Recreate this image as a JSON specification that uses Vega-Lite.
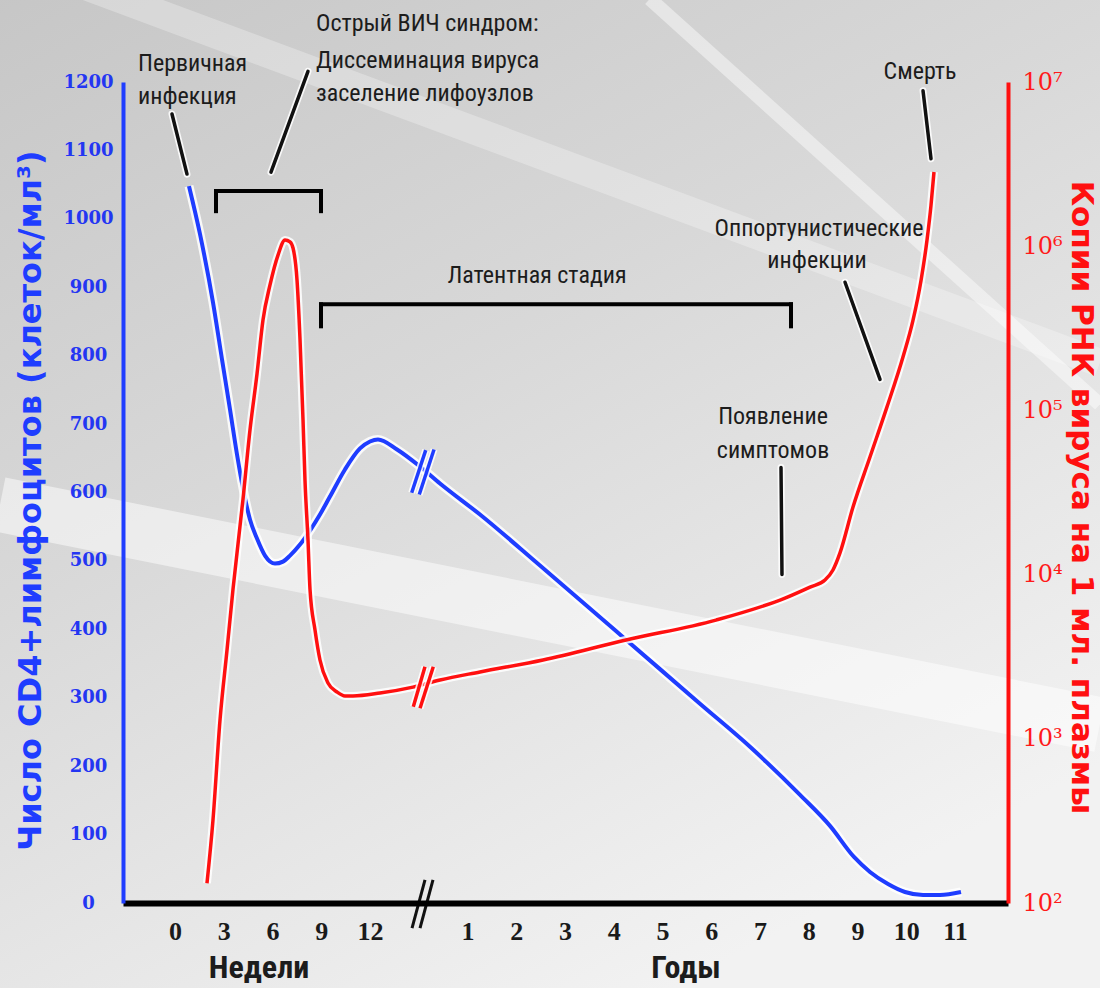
{
  "$schema": "https://vega.github.io/schema/vega-lite/v6.json",
  "width": 885,
  "height": 821,
  "autosize": {"type": "none"},
  "padding": {"left": 123, "top": 82, "right": 92, "bottom": 85},
  "background": "#dcdcdc",
  "config": {"view": {"stroke": null}, "axis": {"grid": false}},
  "datasets": {
    "bg": [{"x": -4, "x2": 19.5, "y": -130, "y2": 1330}],
    "raysWide": [
      {"x": -3.59, "y": 582.5, "x2": 18.97, "y2": 260.5}
    ],
    "raysMid": [
      {"x": -3.59, "y": 1386.6, "x2": 18.97, "y2": 789.4}
    ],
    "raysThin": [
      {"x": 9.74, "y": 1321.5, "x2": 18.97, "y2": 728.8}
    ],
    "cd4": [
      {"x": 0.287, "y": 1047.8}, {"x": 0.513, "y": 977.6}, {"x": 0.779, "y": 878.0}, {"x": 0.964, "y": 794.6},
      {"x": 1.128, "y": 721.5}, {"x": 1.272, "y": 655.6}, {"x": 1.395, "y": 605.9}, {"x": 1.538, "y": 560.5},
      {"x": 1.682, "y": 532.7}, {"x": 1.846, "y": 507.8}, {"x": 2.051, "y": 496.1}, {"x": 2.215, "y": 499.0},
      {"x": 2.359, "y": 507.8}, {"x": 2.564, "y": 523.9}, {"x": 2.769, "y": 544.4}, {"x": 2.974, "y": 567.8},
      {"x": 3.179, "y": 594.1}, {"x": 3.487, "y": 633.7}, {"x": 3.795, "y": 664.4}, {"x": 4.0, "y": 674.6},
      {"x": 4.164, "y": 677.6}, {"x": 4.554, "y": 662.9}, {"x": 5.026, "y": 638.0}, {"x": 5.436, "y": 613.2},
      {"x": 6.256, "y": 567.8}, {"x": 7.487, "y": 493.2}, {"x": 9.251, "y": 384.9}, {"x": 10.769, "y": 291.2},
      {"x": 11.795, "y": 228.3}, {"x": 12.821, "y": 158.0}, {"x": 13.436, "y": 112.7}, {"x": 13.928, "y": 67.3},
      {"x": 14.256, "y": 45.4}, {"x": 14.626, "y": 27.8}, {"x": 14.974, "y": 16.1}, {"x": 15.344, "y": 11.7},
      {"x": 15.692, "y": 11.7}, {"x": 16.123, "y": 16.1}
    ],
    "rna": [
      {"x": 0.656, "rna": 132}, {"x": 0.779, "rna": 320}, {"x": 0.923, "rna": 1300}, {"x": 1.067, "rna": 3475},
      {"x": 1.19, "rna": 8166}, {"x": 1.395, "rna": 28840}, {"x": 1.538, "rna": 76030}, {"x": 1.682, "rna": 166700},
      {"x": 1.805, "rna": 355600}, {"x": 1.949, "rna": 580800}, {"x": 2.113, "rna": 883100}, {"x": 2.256, "rna": 1091000},
      {"x": 2.359, "rna": 1062000}, {"x": 2.421, "rna": 975000}, {"x": 2.503, "rna": 622000}, {"x": 2.564, "rna": 272300},
      {"x": 2.626, "rna": 87500}, {"x": 2.667, "rna": 37150}, {"x": 2.728, "rna": 16260}, {"x": 2.769, "rna": 8166},
      {"x": 2.872, "rna": 4603}, {"x": 2.974, "rna": 3020}, {"x": 3.138, "rna": 2188}, {"x": 3.323, "rna": 1928},
      {"x": 3.487, "rna": 1824}, {"x": 3.651, "rna": 1824}, {"x": 4.205, "rna": 1901}, {"x": 4.882, "rna": 2065},
      {"x": 5.436, "rna": 2280}, {"x": 6.256, "rna": 2553}, {"x": 7.549, "rna": 3020}, {"x": 9.251, "rna": 4000},
      {"x": 11.097, "rna": 5284}, {"x": 12.513, "rna": 7194}, {"x": 13.026, "rna": 8395}, {"x": 13.333, "rna": 9268},
      {"x": 13.497, "rna": 10670}, {"x": 13.641, "rna": 13550}, {"x": 13.908, "rna": 25820}, {"x": 14.256, "rna": 52000},
      {"x": 14.605, "rna": 105000}, {"x": 14.933, "rna": 211300}, {"x": 15.138, "rna": 353000}, {"x": 15.303, "rna": 618000},
      {"x": 15.426, "rna": 1091000}, {"x": 15.508, "rna": 1780000}, {"x": 15.569, "rna": 2831000}
    ],
    "leaders": [
      {"x": -0.062, "y": 1153.2, "x2": 0.246, "y2": 1065.4},
      {"x": 2.728, "y": 1215.6, "x2": 1.969, "y2": 1068.3},
      {"x": 15.344, "y": 1187.3, "x2": 15.508, "y2": 1087.8},
      {"x": 13.744, "y": 907.3, "x2": 14.462, "y2": 765.4},
      {"x": 12.431, "y": 636.6, "x2": 12.451, "y2": 480.2}
    ],
    "brackets": [
      {"x": 0.841, "y": 1040.5, "x2": 2.995, "y2": 1040.5},
      {"x": 0.841, "y": 1040.5, "x2": 0.841, "y2": 1011.2},
      {"x": 2.995, "y": 1040.5, "x2": 2.995, "y2": 1011.2},
      {"x": 2.995, "y": 875.1, "x2": 12.636, "y2": 875.1},
      {"x": 2.995, "y": 875.1, "x2": 2.995, "y2": 842.9},
      {"x": 12.636, "y": 875.1, "x2": 12.636, "y2": 842.9}
    ],
    "axisbreak": [
      {"x": 4.862, "y": -36.6, "x2": 5.128, "y2": 33.7},
      {"x": 5.026, "y": -36.6, "x2": 5.292, "y2": 33.7}
    ],
    "bluebreak": [
      {"x": 4.855, "y": 599.6, "x2": 5.143, "y2": 661.9},
      {"x": 5.011, "y": 597.1, "x2": 5.313, "y2": 662.9}
    ],
    "redbreak": [
      {"x": 4.888, "rna": 1569, "x2": 5.128, "rna2": 2748},
      {"x": 5.026, "rna": 1534, "x2": 5.298, "rna2": 2748}
    ],
    "notesLeft": [
      {"x": -0.759, "y": 1226.3, "text": "Первичная"},
      {"x": -0.759, "y": 1178.0, "text": "инфекция"},
      {"x": 2.892, "y": 1284.9, "text": "Острый ВИЧ синдром:"},
      {"x": 2.892, "y": 1230.7, "text": "Диссеминация вируса"},
      {"x": 2.892, "y": 1182.4, "text": "заселение лифоузлов"}
    ],
    "notesCenter": [
      {"x": 7.426, "y": 916.1, "text": "Латентная стадия"},
      {"x": 13.21, "y": 984.9, "text": "Оппортунистические"},
      {"x": 13.17, "y": 938.1, "text": "инфекции"},
      {"x": 12.267, "y": 709.8, "text": "Появление"},
      {"x": 12.267, "y": 660.0, "text": "симптомов"},
      {"x": 15.282, "y": 1214.6, "text": "Смерть"}
    ],
    "units": [
      {"x": 1.723, "y": -95.1, "text": "Недели"},
      {"x": 10.482, "y": -95.1, "text": "Годы"}
    ]
  },
  "layer": [
    {
      "encoding": {
        "x": {
          "field": "x", "type": "quantitative",
          "scale": {"domain": [-1.0667, 17.0872], "nice": false, "zero": false},
          "axis": {
            "orient": "bottom", "title": null, "zindex": 1,
            "values": [0, 1, 2, 3, 4, 6, 7, 8, 9, 10, 11, 12, 13, 14, 15, 16],
            "labelExpr": "datum.value < 5 ? format(datum.value * 3, 'd') : format(datum.value - 5, 'd')",
            "ticks": false, "tickSize": 0, "labelPadding": 15,
            "labelFont": "Liberation Serif", "labelFontSize": 26, "labelFontWeight": "bold", "labelColor": "#1a1a1a",
            "labelBaseline": "top", "labelFlush": false, "labelOverlap": false,
            "domainColor": "#000000", "domainWidth": 6, "grid": false
          }
        },
        "y": {
          "field": "y", "type": "quantitative",
          "scale": {"domain": [0, 1200], "nice": false, "zero": false},
          "axis": {
            "orient": "left", "zindex": 1, "format": "d",
            "values": [0, 100, 200, 300, 400, 500, 600, 700, 800, 900, 1000, 1100, 1200],
            "ticks": false, "tickSize": 0, "labelPadding": 35, "labelAlign": "center", "labelBaseline": "middle",
            "labelFont": "DejaVu Serif", "labelFontSize": 18, "labelFontWeight": "bold", "labelColor": "#2436f2",
            "labelFlush": false, "labelOverlap": false, "labelBound": false,
            "domainColor": "#1f3dff", "domainWidth": 4, "grid": false,
            "title": "Число CD4+лимфоцитов (клеток/мл³)",
            "titleFont": "DejaVu Sans", "titleFontSize": 32, "titleFontWeight": "bold", "titleColor": "#1f3dff",
            "titleAngle": -90, "titleX": -93, "titleY": 418, "titleAlign": "center", "titleBaseline": "middle"
          }
        }
      },
      "layer": [
        {
          "data": {"name": "bg"},
          "mark": {"type": "rect", "color": {"gradient": "linear", "x1": 0, "y1": 0, "x2": 0.6, "y2": 1,
            "stops": [{"offset": 0, "color": "#c6c6c6"}, {"offset": 0.45, "color": "#d8d8d8"}, {"offset": 1, "color": "#f2f2f2"}]}},
          "encoding": {"x2": {"field": "x2"}, "y2": {"field": "y2"}}
        },
        {
          "data": {"name": "raysWide"},
          "mark": {"type": "rule", "color": "#ffffff", "strokeWidth": 55, "opacity": 0.5},
          "encoding": {"x2": {"field": "x2"}, "y2": {"field": "y2"}}
        },
        {
          "data": {"name": "raysMid"},
          "mark": {"type": "rule", "color": "#ffffff", "strokeWidth": 28, "opacity": 0.28},
          "encoding": {"x2": {"field": "x2"}, "y2": {"field": "y2"}}
        },
        {
          "data": {"name": "raysThin"},
          "mark": {"type": "rule", "color": "#ffffff", "strokeWidth": 14, "opacity": 0.45},
          "encoding": {"x2": {"field": "x2"}, "y2": {"field": "y2"}}
        },
        {
          "data": {"name": "brackets"},
          "mark": {"type": "rule", "color": "#000000", "strokeWidth": 4, "strokeCap": "square"},
          "encoding": {"x2": {"field": "x2"}, "y2": {"field": "y2"}}
        },
        {
          "data": {"name": "leaders"},
          "mark": {"type": "rule", "color": "#ffffff", "strokeWidth": 7, "strokeCap": "round", "opacity": 0.85},
          "encoding": {"x2": {"field": "x2"}, "y2": {"field": "y2"}}
        },
        {
          "data": {"name": "leaders"},
          "mark": {"type": "rule", "color": "#111111", "strokeWidth": 3.5, "strokeCap": "round"},
          "encoding": {"x2": {"field": "x2"}, "y2": {"field": "y2"}}
        },
        {
          "data": {"name": "notesLeft"},
          "mark": {"type": "text", "align": "left", "baseline": "middle", "font": "Liberation Sans Narrow, Roboto Condensed, DejaVu Sans Condensed, sans-serif", "fontSize": 24, "color": "#1c1c1c"},
          "encoding": {"text": {"field": "text", "type": "nominal"}}
        },
        {
          "data": {"name": "notesCenter"},
          "mark": {"type": "text", "align": "center", "baseline": "middle", "font": "Liberation Sans Narrow, Roboto Condensed, DejaVu Sans Condensed, sans-serif", "fontSize": 24, "color": "#1c1c1c"},
          "encoding": {"text": {"field": "text", "type": "nominal"}}
        },
        {
          "data": {"name": "units"},
          "mark": {"type": "text", "align": "center", "baseline": "middle", "font": "Liberation Sans Narrow, Roboto Condensed, DejaVu Sans Condensed, sans-serif", "fontSize": 32, "fontWeight": "bold", "color": "#1c1c1c"},
          "encoding": {"text": {"field": "text", "type": "nominal"}}
        },
        {
          "data": {"name": "axisbreak"},
          "mark": {"type": "rule", "color": "#111111", "strokeWidth": 3},
          "encoding": {"x2": {"field": "x2"}, "y2": {"field": "y2"}}
        },
        {
          "data": {"name": "cd4"},
          "mark": {"type": "line", "interpolate": "monotone", "color": "#ffffff", "strokeWidth": 9, "opacity": 0.85}
        },
        {
          "data": {"name": "cd4"},
          "mark": {"type": "line", "interpolate": "monotone", "color": "#1f3dff", "strokeWidth": 4}
        },
        {
          "data": {"name": "bluebreak"},
          "mark": {"type": "rule", "color": "#ffffff", "strokeWidth": 7, "opacity": 0.85},
          "encoding": {"x2": {"field": "x2"}, "y2": {"field": "y2"}}
        },
        {
          "data": {"name": "bluebreak"},
          "mark": {"type": "rule", "color": "#1f3dff", "strokeWidth": 3.5},
          "encoding": {"x2": {"field": "x2"}, "y2": {"field": "y2"}}
        }
      ]
    },
    {
      "encoding": {
        "x": {
          "field": "x", "type": "quantitative",
          "scale": {"domain": [-1.0667, 17.0872], "nice": false, "zero": false},
          "axis": {
            "orient": "bottom", "title": null, "zindex": 1,
            "values": [0, 1, 2, 3, 4, 6, 7, 8, 9, 10, 11, 12, 13, 14, 15, 16],
            "labelExpr": "datum.value < 5 ? format(datum.value * 3, 'd') : format(datum.value - 5, 'd')",
            "ticks": false, "tickSize": 0, "labelPadding": 15,
            "labelFont": "Liberation Serif", "labelFontSize": 26, "labelFontWeight": "bold", "labelColor": "#1a1a1a",
            "labelBaseline": "top", "labelFlush": false, "labelOverlap": false,
            "domainColor": "#000000", "domainWidth": 6, "grid": false
          }
        },
        "y": {
          "field": "rna", "type": "quantitative",
          "scale": {"type": "log", "domain": [100, 10000000], "nice": false},
          "axis": {
            "orient": "right", "zindex": 1,
            "values": [100, 1000, 10000, 100000, 1000000, 10000000],
            "labelExpr": "'10' + ['⁰','¹','²','³','⁴','⁵','⁶','⁷'][round(log(datum.value) / LN10)]",
            "ticks": false, "tickSize": 0, "labelPadding": 14, "labelAlign": "left", "labelBaseline": "middle",
            "labelFont": "DejaVu Serif", "labelFontSize": 24, "labelColor": "#ff1a1a",
            "labelFlush": false, "labelOverlap": false, "labelBound": false,
            "domainColor": "#ff1010", "domainWidth": 4, "grid": false,
            "title": "Копии РНК вируса на 1 мл. плазмы",
            "titleFont": "DejaVu Sans", "titleFontSize": 31, "titleFontWeight": "bold", "titleColor": "#ff1010",
            "titleAngle": 90, "titleX": 72, "titleY": 415, "titleAlign": "center", "titleBaseline": "middle"
          }
        }
      },
      "layer": [
        {
          "data": {"name": "rna"},
          "mark": {"type": "line", "interpolate": "monotone", "color": "#ffffff", "strokeWidth": 8, "opacity": 0.85}
        },
        {
          "data": {"name": "rna"},
          "mark": {"type": "line", "interpolate": "monotone", "color": "#ff1010", "strokeWidth": 3.5}
        },
        {
          "data": {"name": "redbreak"},
          "mark": {"type": "rule", "color": "#ffffff", "strokeWidth": 7, "opacity": 0.85},
          "encoding": {"x2": {"field": "x2"}, "y2": {"field": "rna2"}}
        },
        {
          "data": {"name": "redbreak"},
          "mark": {"type": "rule", "color": "#ff1010", "strokeWidth": 3.5},
          "encoding": {"x2": {"field": "x2"}, "y2": {"field": "rna2"}}
        }
      ]
    }
  ],
  "resolve": {"scale": {"y": "independent"}}
}
